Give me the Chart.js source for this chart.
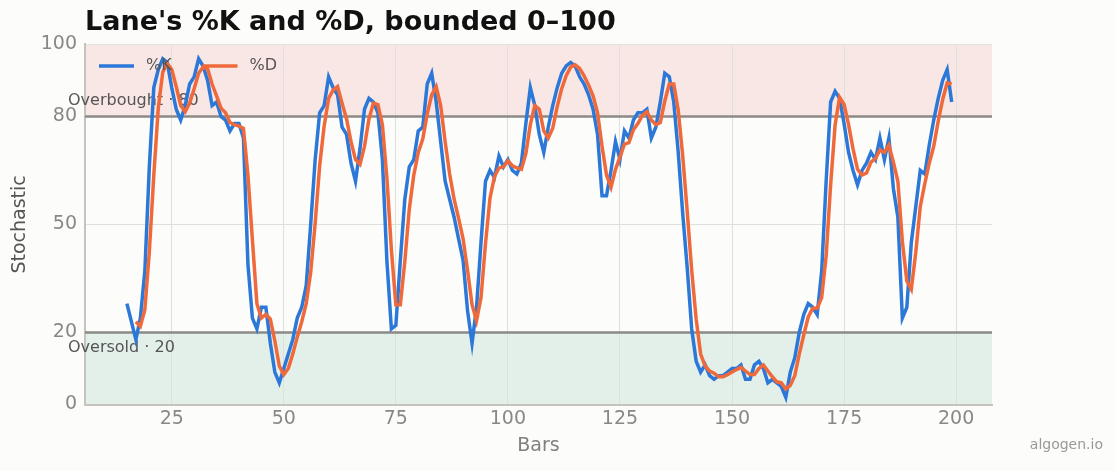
<!DOCTYPE html>
<html><head><meta charset="utf-8">
<script src="https://cdn.jsdelivr.net/npm/chart.js@4.4.1/dist/chart.umd.min.js"></script>
<style>html,body{margin:0;padding:0;background:#fcfcfa;}#wrap{width:1116px;height:471px;position:relative;}</style>
</head><body><div id="wrap"><canvas id="c" width="1116" height="471"></canvas></div>
<script>
const bars = [15,16,17,18,19,20,21,22,23,24,25,26,27,28,29,30,31,32,33,34,35,36,37,38,39,40,41,42,43,44,45,46,47,48,49,50,51,52,53,54,55,56,57,58,59,60,61,62,63,64,65,66,67,68,69,70,71,72,73,74,75,76,77,78,79,80,81,82,83,84,85,86,87,88,89,90,91,92,93,94,95,96,97,98,99,100,101,102,103,104,105,106,107,108,109,110,111,112,113,114,115,116,117,118,119,120,121,122,123,124,125,126,127,128,129,130,131,132,133,134,135,136,137,138,139,140,141,142,143,144,145,146,147,148,149,150,151,152,153,154,155,156,157,158,159,160,161,162,163,164,165,166,167,168,169,170,171,172,173,174,175,176,177,178,179,180,181,182,183,184,185,186,187,188,189,190,191,192,193,194,195,196,197,198,199];
const kValues = [28,23,18,24,37,66,88,93,96,95,88,82,79,83,89,91,96,94,90,83,84,80,79,76,78,78,74,39,24,21,27,27,17,9,6,10,14,18,24,27,33,50,68,81,83,91,88,86,77,75,67,62,71,82,85,84,81,68,40,21,22,40,57,66,68,76,77,89,92,84,73,62,57,52,46,40,26,17,27,45,62,65,63,69,66,68,65,64,67,78,88,83,75,70,77,83,88,92,94,95,94,91,89,86,82,75,58,58,65,73,68,76,74,79,81,81,82,74,77,84,92,91,84,70,53,38,21,12,9,11,8,7,8,8,9,10,10,11,7,7,11,12,10,6,7,6,5,2,9,13,20,25,28,27,25,37,62,84,87,85,78,70,65,61,65,67,70,68,74,68,74,60,52,24,27,45,55,65,64,72,79,85,90,93,84];
const dValues = [null,null,23,21.7,26.3,42.3,63.7,82.3,92.3,94.7,93,88.3,83,81.3,83.7,87.7,92,93.7,93.3,89,85.7,82.3,81,78.3,77.7,77.3,76.7,63.7,45.7,28,24,25,23.7,17.7,10.7,8.3,10,14,18.7,23,28,36.7,50.3,66.3,77.3,85,87.3,88.3,83.7,79.3,73,68,66.7,71.7,79.3,83.7,83.3,77.7,63,43,27.7,27.7,39.7,54.3,63.7,70,73.7,80.7,86,88.3,83,73,64,57,51.7,46,37.3,27.7,23.3,29.7,44.7,57.3,63.3,65.7,66,67.7,66.3,65.7,65.3,69.7,77.7,83,82,76,74,76.7,82.7,87.7,91.3,93.7,94.3,93.3,91.3,88.7,85.7,81,71.7,63.7,60.3,65.3,68.7,72.3,72.7,76.3,78,80.3,81.3,79,77.7,78.3,84.3,89,89,81.7,69,53.7,37.3,23.7,14,10.7,9.3,8.7,7.7,7.7,8.3,9,9.7,10.3,9.3,8.3,8.3,10,11,9.3,7.7,6.3,6,4.3,5.3,8,14,19.3,24.3,26.7,26.7,29.7,41.3,61,77.7,85.3,83.3,77.7,71,65.3,63.7,64.3,67.3,68.3,70.7,70,72,67.3,62,45.3,34.3,32,42.3,55,61.3,67,71.7,78.7,84.7,89.3,89];
const xTicks = [25,50,75,100,125,150,175,200];
const yTicks = [0,20,50,80,100];
const overbought = 80, oversold = 20;
const seriesNames = ['%K','%D'];

const FONT = "'DejaVu Sans', sans-serif";
Chart.defaults.font.family = FONT;
const K_COLOR = '#2b78d8', D_COLOR = '#f0693a';

const decor = {
  id: 'decor',
  beforeDraw(chart) {
    const {ctx, chartArea: a, scales: {y}} = chart;
    ctx.save();
    ctx.fillStyle = '#fcfcfa';
    ctx.fillRect(0, 0, chart.width, chart.height);
    const yTop = y.getPixelForValue(100), yOB = y.getPixelForValue(overbought);
    const yOS = y.getPixelForValue(oversold), yBot = y.getPixelForValue(0);
    ctx.fillStyle = 'rgba(229,83,83,0.12)';
    ctx.fillRect(a.left, yTop, a.right - a.left, yOB - yTop);
    ctx.fillStyle = 'rgba(46,160,120,0.12)';
    ctx.fillRect(a.left, yOS, a.right - a.left, yBot - yOS);
    ctx.restore();
  },
  beforeDatasetsDraw(chart) {
    const {ctx, chartArea: a, scales: {y}} = chart;
    ctx.save();
    ctx.strokeStyle = '#8c8a84';
    ctx.lineWidth = 2.5;
    [overbought, oversold].forEach(v => {
      const py = y.getPixelForValue(v);
      ctx.beginPath(); ctx.moveTo(a.left, py); ctx.lineTo(a.right, py); ctx.stroke();
    });
    ctx.fillStyle = '#555';
    ctx.font = "16px " + FONT;
    ctx.textBaseline = 'middle';
    ctx.textAlign = 'left';
    ctx.fillText('Overbought · ' + overbought, 68, y.getPixelForValue(overbought) - 16);
    ctx.fillText('Oversold · ' + oversold, 68, y.getPixelForValue(oversold) + 15);
    ctx.restore();
  },
  afterDatasetsDraw(chart) {
    const {ctx, chartArea: a} = chart;
    ctx.save();
    ctx.font = "16px " + FONT;
    ctx.textBaseline = 'middle';
    ctx.textAlign = 'left';
    const ly = a.top + 21.5;
    let lx = a.left + 14;
    chart.data.datasets.forEach((ds, i) => {
      ctx.strokeStyle = ds.borderColor;
      ctx.lineWidth = 3.5;
      ctx.beginPath(); ctx.moveTo(lx, ly); ctx.lineTo(lx + 35, ly); ctx.stroke();
      ctx.fillStyle = '#555';
      ctx.fillText(ds.label, lx + 47, ly);
      lx += 103.5;
    });
    ctx.fillStyle = '#999';
    ctx.font = "14px " + FONT;
    ctx.textAlign = 'right';
    ctx.fillText('algogen.io', 1103, 445);
    ctx.restore();
  }
};

new Chart(document.getElementById('c'), {
  type: 'line',
  data: {
    datasets: [
      { label: seriesNames[0], data: bars.map((b, i) => ({x: b, y: kValues[i]})), borderColor: K_COLOR, backgroundColor: K_COLOR, borderWidth: 3.5, pointRadius: 0, tension: 0, order: 1 },
      { label: seriesNames[1], data: bars.map((b, i) => ({x: b, y: dValues[i]})), borderColor: D_COLOR, backgroundColor: D_COLOR, borderWidth: 3.5, pointRadius: 0, tension: 0, order: 0 }
    ]
  },
  options: {
    responsive: false,
    animation: false,
    devicePixelRatio: 1,
    layout: { padding: { left: 0, right: 124, top: 0, bottom: 0 } },
    plugins: {
      legend: { display: false },
      tooltip: { enabled: false },
      title: {
        display: true, text: "Lane's %K and %D, bounded 0–100", align: 'start', fullSize: false,
        color: '#111', font: { size: 27, weight: 'bold', family: FONT },
        padding: { top: 7, bottom: 5 }
      }
    },
    scales: {
      x: {
        type: 'linear', min: 5.65, max: 208,
        afterBuildTicks: s => { s.ticks = xTicks.map(v => ({value: v})); },
        afterFit: s => { s.height = 66.5; },
        grid: { color: '#e0e0da', lineWidth: 1, drawTicks: false },
        border: { color: '#c4c4bc', width: 2 },
        ticks: { color: '#888', font: { size: 19 }, padding: 3, maxRotation: 0 },
        title: { display: true, text: 'Bars', color: '#808080', font: { size: 19 }, padding: { top: 0, bottom: 14 } }
      },
      y: {
        min: 0, max: 100,
        afterBuildTicks: s => { s.ticks = yTicks.map(v => ({value: v})); },
        afterFit: s => { s.width = 85; },
        grid: { color: '#e0e0da', lineWidth: 1, drawTicks: false },
        border: { color: '#c4c4bc', width: 2 },
        ticks: { color: '#888', font: { size: 19 }, padding: 8 },
        title: { display: true, text: 'Stochastic', color: '#555', font: { size: 19 }, padding: { top: 9, bottom: 0 } }
      }
    }
  },
  plugins: [decor]
});
</script></body></html>
